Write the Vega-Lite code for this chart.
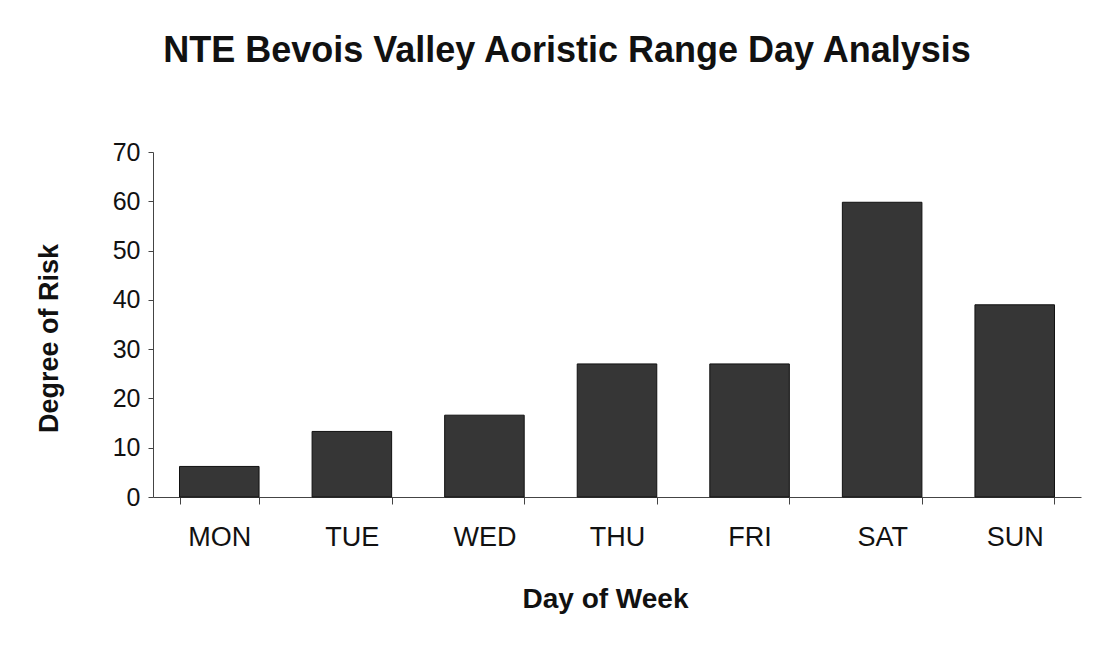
{
  "$schema": "https://vega.github.io/schema/vega-lite/v6.json",
  "autosize": "none",
  "width": 928,
  "height": 345,
  "padding": {"left": 153, "top": 152, "right": 15, "bottom": 154},
  "background": "white",
  "title": {
    "text": "NTE Bevois Valley Aoristic Range Day Analysis",
    "font": "Liberation Sans",
    "fontSize": 36,
    "fontWeight": "bold",
    "color": "#111111",
    "anchor": "middle",
    "frame": "group",
    "dx": -50,
    "baseline": "alphabetic",
    "offset": 42
  },
  "data": {
    "values": [
      {"day": "MON", "risk": 6.2},
      {"day": "TUE", "risk": 13.3},
      {"day": "WED", "risk": 16.6},
      {"day": "THU", "risk": 27.0},
      {"day": "FRI", "risk": 27.0},
      {"day": "SAT", "risk": 59.8},
      {"day": "SUN", "risk": 39.0}
    ]
  },
  "mark": {"type": "bar", "fill": "#363636", "stroke": "#111111", "strokeWidth": 1},
  "encoding": {
    "x": {
      "field": "day",
      "type": "nominal",
      "sort": null,
      "scale": {"paddingInner": 0.4, "paddingOuter": 0.2},
      "axis": {
        "title": "Day of Week",
        "labelAngle": 0,
        "tickBand": "extent",
        "tickSize": 7,
        "tickColor": "#444444",
        "domainColor": "#444444",
        "labelPadding": 20,
        "labelFont": "Liberation Sans",
        "labelFontSize": 27,
        "labelColor": "#111111",
        "titleFont": "Liberation Sans",
        "titleFontSize": 28,
        "titleFontWeight": "bold",
        "titleColor": "#111111",
        "titleBaseline": "alphabetic",
        "titleX": 452,
        "titleY": 110
      }
    },
    "y": {
      "field": "risk",
      "type": "quantitative",
      "scale": {"domain": [0, 70]},
      "axis": {
        "title": "Degree of Risk",
        "values": [0, 10, 20, 30, 40, 50, 60, 70],
        "grid": false,
        "tickSize": 5,
        "tickColor": "#444444",
        "domainColor": "#444444",
        "labelPadding": 8,
        "labelFont": "Liberation Sans",
        "labelFontSize": 25,
        "labelColor": "#111111",
        "titleFont": "Liberation Sans",
        "titleFontSize": 27,
        "titleFontWeight": "bold",
        "titleColor": "#111111",
        "titleAngle": -90,
        "titleAlign": "center",
        "titleBaseline": "alphabetic",
        "titleX": -96,
        "titleY": 186
      }
    }
  },
  "config": {"view": {"stroke": null}}
}
